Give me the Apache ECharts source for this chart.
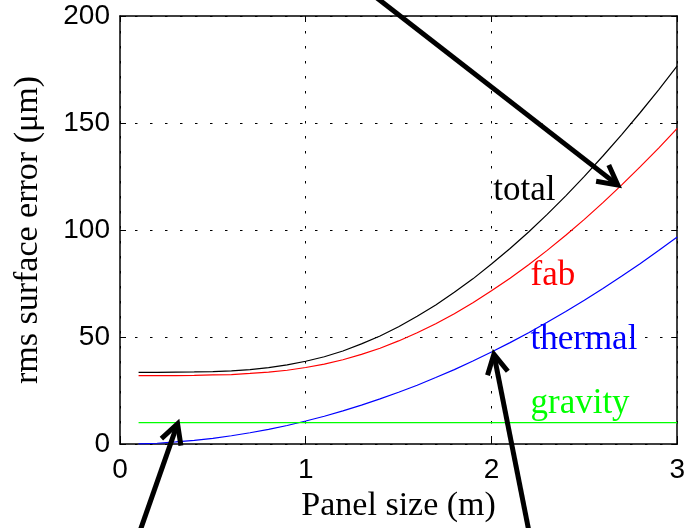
<!DOCTYPE html>
<html>
<head>
<meta charset="utf-8">
<script src="https://cdn.jsdelivr.net/npm/echarts@6/dist/echarts.min.js"></script>
<style>
	html, body { margin: 0; padding: 0; background: #fff; }
	#chart { width: 688px; height: 528px; }
</style>
</head>
<body>
<div id="chart"></div>
<script>
	// panel size (m)
	var panelSize = [0.1,0.2,0.3,0.4,0.5,0.6,0.7,0.8,0.9,1.0,1.1,1.2,1.3,1.4,1.5,1.6,1.7,1.8,1.9,2.0,2.1,2.2,2.3,2.4,2.5,2.6,2.7,2.8,2.9,3.0];
	// rms surface error (um)
	var totalErr = [33.5,33.5,33.6,33.7,33.9,34.2,34.8,35.7,37.0,38.7,40.8,43.5,46.8,50.5,54.8,59.7,65.0,70.9,77.2,84.1,91.4,99.1,107.3,116.0,125.1,134.6,144.5,154.8,165.5,176.7];
	var fabErr = [32.0,32.0,32.0,32.1,32.3,32.5,33.0,33.6,34.5,35.8,37.4,39.4,41.9,44.8,48.2,52.0,56.2,60.9,66.0,71.6,77.5,83.8,90.5,97.6,105.0,112.8,121.0,129.5,138.3,147.5];
	var thermalErr = [0.1,0.4,1.0,1.7,2.7,3.9,5.3,6.9,8.7,10.8,13.0,15.5,18.2,21.1,24.2,27.5,31.1,34.8,38.8,43.0,47.4,52.0,56.9,61.9,67.2,72.7,78.4,84.3,90.4,96.8];
	var gravityErr = [10,10,10,10,10,10,10,10,10,10,10,10,10,10,10,10,10,10,10,10,10,10,10,10,10,10,10,10,10,10];
	var xTicks = [0, 1, 2, 3];
	var yTicks = [0, 50, 100, 150, 200];

	// curve labels and arrows, in data units
	var labels = [
		{text: "total", color: "#000000", at: [2.01, 118.3]},
		{text: "fab", color: "#ff0000", at: [2.21, 78.5]},
		{text: "thermal", color: "#0000ff", at: [2.21, 48.5]},
		{text: "gravity", color: "#00ff00", at: [2.21, 19]}
	];
	var arrows = [
		{from: [1.36, 210], to: [2.68, 121]},
		{from: [0.11, -40], to: [0.31, 9.5]},
		{from: [2.20, -40], to: [2.013, 42]}
	];

	var serif = "Liberation Serif, Times New Roman, serif";
	var sans = "Liberation Sans, Arial, sans-serif";

	function pairs(arr){
		return panelSize.map(function(x, i){ return [x, arr[i]]; });
	}

	function lineSeries(name, arr, color){
		return {
			name: name,
			type: "line",
			data: pairs(arr),
			showSymbol: false,
			symbol: "none",
			lineStyle: {color: color, width: 1.2},
			silent: true,
			z: 3
		};
	}

	var dotted = {color: "#000", width: 1, type: [2.5, 12.5]};
	var boxLine = {show: true, onZero: false, lineStyle: {color: "#000", width: 1.5}};
	var tickIn = {show: true, inside: true, length: 6, lineStyle: {color: "#000", width: 1}};

	var myChart = echarts.init(document.getElementById("chart"));

	var option = {
		animation: false,
		backgroundColor: "#ffffff",
		grid: {left: 120, right: 8, top: 16, bottom: 83},
		xAxis: [{
			type: "value",
			min: xTicks[0],
			max: xTicks[xTicks.length - 1],
			interval: 1,
			axisLine: boxLine,
			axisTick: tickIn,
			splitLine: {show: true, lineStyle: dotted},
			axisLabel: {color: "#000", fontFamily: sans, fontSize: 28, margin: 12},
			name: "Panel size (m)",
			nameLocation: "middle",
			nameGap: 42,
			nameTextStyle: {color: "#000", fontFamily: serif, fontSize: 34}
		}, {
			type: "value",
			position: "top",
			min: xTicks[0],
			max: xTicks[xTicks.length - 1],
			interval: 1,
			axisLine: boxLine,
			axisTick: tickIn,
			splitLine: {show: false},
			axisLabel: {show: false}
		}],
		yAxis: [{
			type: "value",
			min: yTicks[0],
			max: yTicks[yTicks.length - 1],
			interval: 50,
			axisLine: boxLine,
			axisTick: tickIn,
			splitLine: {show: true, lineStyle: dotted},
			axisLabel: {color: "#000", fontFamily: sans, fontSize: 28, margin: 10},
			name: "rms surface error (μm)",
			nameLocation: "middle",
			nameGap: 75,
			nameTextStyle: {color: "#000", fontFamily: serif, fontSize: 34}
		}, {
			type: "value",
			position: "right",
			min: yTicks[0],
			max: yTicks[yTicks.length - 1],
			interval: 50,
			axisLine: boxLine,
			axisTick: tickIn,
			splitLine: {show: false},
			axisLabel: {show: false}
		}],
		series: [
			lineSeries("total", totalErr, "#000000"),
			lineSeries("fab", fabErr, "#ff0000"),
			lineSeries("thermal", thermalErr, "#0000ff"),
			lineSeries("gravity", gravityErr, "#00ff00")
		]
	};
	myChart.setOption(option);

	// labels + arrows placed through the axes
	function px(p){
		return myChart.convertToPixel({gridIndex: 0}, p);
	}

	var graphics = [];
	labels.forEach(function(l){
		var p = px(l.at);
		graphics.push({
			type: "text",
			x: p[0], y: p[1],
			z: 10,
			style: {text: l.text, fill: l.color, font: "35px " + serif, align: "left", verticalAlign: "middle"}
		});
	});

	arrows.forEach(function(a){
		var tip = px(a.to), tail = px(a.from);
		var dx = tail[0] - tip[0], dy = tail[1] - tip[1];
		var len = Math.sqrt(dx * dx + dy * dy);
		var ux = dx / len, uy = dy / len;
		var ang = 28 * Math.PI / 180, L = 22;
		function wing(s){
			var c = Math.cos(s * ang), sn = Math.sin(s * ang);
			return [tip[0] + L * (ux * c - uy * sn), tip[1] + L * (ux * sn + uy * c)];
		}
		graphics.push({
			type: "line", z: 20,
			shape: {x1: tail[0], y1: tail[1], x2: tip[0] + ux * 2, y2: tip[1] + uy * 2},
			style: {stroke: "#000", lineWidth: 5}
		});
		graphics.push({
			type: "polyline", z: 20,
			shape: {points: [wing(1), tip, wing(-1)]},
			style: {stroke: "#000", lineWidth: 5, fill: null, lineJoin: "miter", lineCap: "butt"}
		});
	});

	myChart.setOption({graphic: graphics});
</script>
</body>
</html>
